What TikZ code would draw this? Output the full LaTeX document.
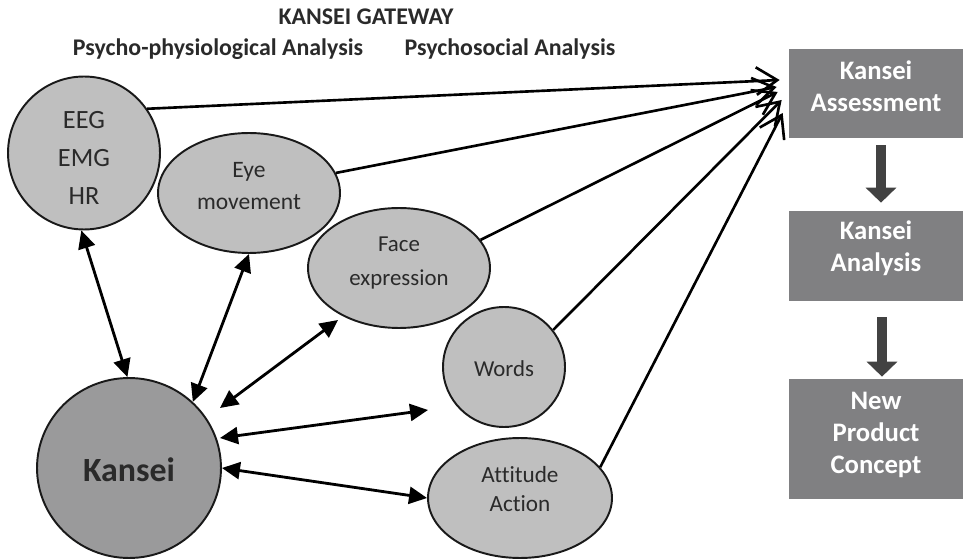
\documentclass[tikz,border=0pt]{standalone}
\usepackage{fontspec}
\setmainfont{Carlito}[Ligatures=NoCommon]
\usetikzlibrary{shapes.geometric,arrows.meta,calc}
\definecolor{lightg}{HTML}{BFBFBF}
\definecolor{midg}{HTML}{9A9A9B}
\definecolor{boxg}{HTML}{808082}
\definecolor{darkg}{HTML}{424242}
\definecolor{txt}{HTML}{2A2A2A}
\begin{document}
\begin{tikzpicture}[x=0.02cm,y=-0.02cm,
  oval/.style={ellipse,draw=black!90,line width=1.1pt,fill=lightg,inner sep=0pt},
  lab/.style={align=center,text=txt,font=\fontsize{13}{19}\selectfont},
  kbox/.style={rectangle,fill=boxg,inner sep=0pt,minimum width=3.48cm},
  blab/.style={align=center,text=white,font=\bfseries\fontsize{15.2}{18.2}\selectfont},
  dbl/.style={line width=1.6pt,{Triangle[length=0.36cm,width=0.34cm]}-{Triangle[length=0.36cm,width=0.34cm]}},
  toassess/.style={line width=1.5pt,-{Straight Barb[length=0.42cm,width=0.55cm,line width=1.5pt]}},
  blockarr/.style={draw=darkg,line width=0.2cm,-{Triangle[length=0.3cm,width=0.6cm]}},
  title/.style={font=\bfseries\fontsize{13.6}{15}\selectfont,text=txt,inner sep=0pt}]
\useasboundingbox (0,0) rectangle (963,560);

% titles
\node[title] (gw) at (366,17) {KANSEI GATEWAY};
\node[title] (pp) at (218,49) {Psycho-physiological Analysis};
\node[title] (ps) at (510,49) {Psychosocial Analysis};

% ovals
\node[oval,minimum width=3.04cm,minimum height=3.06cm,
  label={[lab,font=\fontsize{15}{21.5}\selectfont,yshift=-0.1cm]center:{EEG\\EMG\\HR}}] (eeg) at (84,153) {};
\node[oval,minimum width=3.64cm,minimum height=2.4cm,
  label={[lab,font=\fontsize{13.4}{18.2}\selectfont,yshift=0.13cm]center:{Eye\\movement}}] (eye) at (249,193) {};
\node[oval,minimum width=3.64cm,minimum height=2.4cm,
  label={[lab,font=\fontsize{13}{19.5}\selectfont,yshift=0.1cm]center:{Face\\expression}}] (face) at (399,268) {};
\node[oval,minimum width=2.44cm,minimum height=2.4cm,
  label={[lab,yshift=-0.04cm]center:{Words}}] (words) at (504,367) {};
\node[oval,minimum width=3.68cm,minimum height=2.4cm,
  label={[lab,font=\fontsize{13.2}{16}\selectfont,yshift=0.18cm]center:{Attitude\\Action}}] (att) at (520,498) {};
\node[oval,fill=midg,minimum width=3.68cm,minimum height=3.6cm,
  label={[lab,font=\bfseries\fontsize{19.3}{22}\selectfont,yshift=-0.03cm]center:{Kansei}}] (kansei) at (129,468) {};

% boxes
\node[kbox,minimum height=1.78cm,label={[blab,yshift=0.15cm]center:{Kansei\\Assessment}}] (assess) at (876,93.5) {};
\node[kbox,minimum height=1.8cm,label={[blab,yshift=0.15cm]center:{Kansei\\Analysis}}] (analysis) at (876,256) {};
\node[kbox,minimum height=2.4cm,label={[blab,yshift=0.08cm]center:{New\\Product\\Concept}}] (newp) at (876,439) {};

% block arrows
\draw[blockarr] ([xshift=0.1cm,yshift=-0.14cm]assess.south) -- ([xshift=0.1cm,yshift=0.16cm]analysis.north);
\draw[blockarr] ([xshift=0.12cm,yshift=-0.32cm]analysis.south) -- ([xshift=0.12cm,yshift=0.04cm]newp.north);

% arrows to Kansei Assessment
\draw[toassess] (eeg.35) -- ($(assess.west)+(-9,-13.5)$);
\draw[toassess] (eye.13) -- ($(assess.west)+(-12,-6.5)$);
\draw[toassess] (face.19) -- ($(assess.west)+(-11,-1.5)$);
\draw[toassess] (words.37) -- ($(assess.west)+(-7,6.5)$);
\draw[toassess] (att.21) -- ($(assess.west)+(-6,19.5)$);

% double arrows with Kansei
\draw[dbl] (eeg.268) -- (kansei.91);
\draw[dbl] (eye.270) -- (kansei.46);
\draw[dbl] ($(face)+(-61,52)$) -- ($(kansei)+(91,-60)$);
\draw[dbl] ($(words)+(-76,43)$) -- ($(kansei)+(91,-30)$);
\draw[dbl] (att.180) -- (kansei.0);
\end{tikzpicture}
\end{document}
